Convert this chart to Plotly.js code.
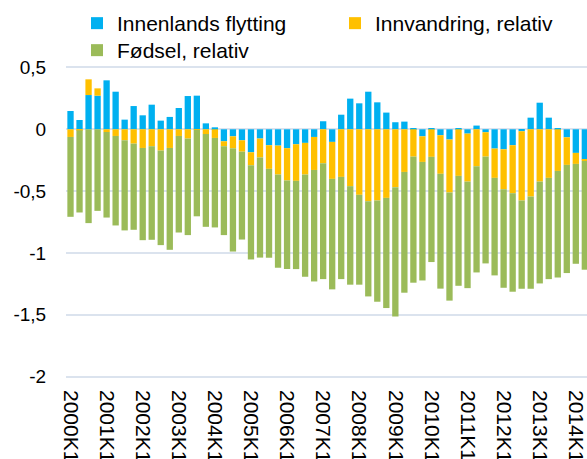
<!DOCTYPE html>
<html>
<head>
<meta charset="utf-8">
<script src="https://cdn.plot.ly/plotly-3.0.1.min.js"></script>
<style>
html, body { margin: 0; padding: 0; overflow: hidden; background: #fff; }
#chart { width: 587px; height: 459px; }
</style>
</head>
<body>
<div id="chart"></div>
<script>
var categories = [
  "2000K1","2000K2","2000K3","2000K4","2001K1","2001K2","2001K3","2001K4",
  "2002K1","2002K2","2002K3","2002K4","2003K1","2003K2","2003K3","2003K4",
  "2004K1","2004K2","2004K3","2004K4","2005K1","2005K2","2005K3","2005K4",
  "2006K1","2006K2","2006K3","2006K4","2007K1","2007K2","2007K3","2007K4",
  "2008K1","2008K2","2008K3","2008K4","2009K1","2009K2","2009K3","2009K4",
  "2010K1","2010K2","2010K3","2010K4","2011K1","2011K2","2011K3","2011K4",
  "2012K1","2012K2","2012K3","2012K4","2013K1","2013K2","2013K3","2013K4",
  "2014K1","2014K2"
];

var innenlands = [
  0.148, 0.075, 0.277, 0.272, 0.396, 0.304, 0.078, 0.188,
  0.113, 0.199, 0.070, 0.100, 0.172, 0.269, 0.272, 0.048,
  0.016, -0.097, -0.057, -0.089, -0.186, -0.075, -0.129, -0.132,
  -0.153, -0.121, -0.110, -0.062, 0.065, -0.102, 0.118, 0.248,
  0.210, 0.304, 0.218, 0.135, 0.057, 0.062, 0.003, -0.057,
  0.008, -0.048, -0.083, 0.003, -0.035, 0.030, -0.024, -0.156,
  -0.162, -0.129, -0.016, 0.094, 0.215, 0.094, 0.008, -0.065,
  -0.191, -0.245
];

var innvandring = [
  -0.062, -0.008, 0.127, 0.059, -0.022, -0.054, -0.089, -0.116,
  -0.151, -0.137, -0.172, -0.151, -0.054, -0.075, -0.004, -0.038,
  -0.070, -0.040, -0.097, -0.092, -0.105, -0.153, -0.191, -0.234,
  -0.261, -0.296, -0.256, -0.267, -0.275, -0.299, -0.385, -0.460,
  -0.530, -0.582, -0.576, -0.555, -0.468, -0.345, -0.221, -0.207,
  -0.223, -0.312, -0.428, -0.377, -0.388, -0.299, -0.197, -0.237,
  -0.323, -0.388, -0.560, -0.544, -0.423, -0.393, -0.337, -0.223,
  -0.089, -0.011
];

var fodsel = [
  -0.646, -0.665, -0.759, -0.660, -0.692, -0.724, -0.729, -0.697,
  -0.746, -0.757, -0.765, -0.824, -0.781, -0.781, -0.700, -0.751,
  -0.724, -0.719, -0.835, -0.711, -0.762, -0.810, -0.719, -0.754,
  -0.716, -0.714, -0.827, -0.902, -0.937, -0.894, -0.827, -0.797,
  -0.727, -0.770, -0.819, -0.891, -1.047, -0.977, -1.020, -0.959,
  -0.851, -0.929, -0.875, -0.889, -0.862, -0.859, -0.864, -0.789,
  -0.797, -0.797, -0.714, -0.746, -0.824, -0.819, -0.862, -0.875,
  -0.808, -0.880
];

var seriesNames = ["Innenlands flytting", "Innvandring, relativ", "Fødsel, relativ"];
var xTickVals = ["2000K1","2001K1","2002K1","2003K1","2004K1","2005K1","2006K1","2007K1",
                 "2008K1","2009K1","2010K1","2011K1","2012K1","2013K1","2014K1"];
var yTickVals = [0.5, 0, -0.5, -1, -1.5, -2];
var yTickText = ["0,5", "0", "-0,5", "-1", "-1,5", "-2"];

var FONT = "Liberation Sans, Arial, sans-serif";

var traces = [
  { type: "bar", x: categories, y: innenlands, name: seriesNames[0],
    marker: { color: "#00b0f0", line: { width: 0 } }, legend: "legend" },
  { type: "bar", x: categories, y: innvandring, name: seriesNames[1],
    marker: { color: "#ffc000", line: { width: 0 } }, legend: "legend2" },
  { type: "bar", x: categories, y: fodsel, name: seriesNames[2],
    marker: { color: "#9bbb59", line: { width: 0 } }, legend: "legend3" }
];

var legendFont = { family: FONT, size: 21, color: "#000000" };
function legendAt(x, y) {
  return {
    orientation: "h", x: x, y: y, xref: "paper", yref: "paper",
    xanchor: "left", yanchor: "top",
    bgcolor: "rgba(0,0,0,0)", borderwidth: 0, itemwidth: 30,
    font: legendFont
  };
}

var plotW = 587 - 66 - 0, plotH = 459 - 65 - 80;
function px2paperX(px) { return (px - 66) / plotW; }
function px2paperY(py) { return 1 + (65 - py) / plotH; }

var layout = {
  width: 587, height: 459,
  margin: { l: 66, r: 0, t: 65, b: 80, autoexpand: false },
  paper_bgcolor: "#ffffff", plot_bgcolor: "#ffffff",
  barmode: "relative", bargap: 0.3,
  font: { family: FONT, size: 19, color: "#000000" },
  xaxis: {
    type: "category",
    range: [-0.5, 57.24],
    tickmode: "array", tickvals: xTickVals, ticktext: xTickVals,
    tickangle: 90, showgrid: false, zeroline: false, showline: false,
    ticks: "", automargin: false,
    ticklabelstandoff: 10,
    tickfont: { family: FONT, size: 21, color: "#000000" }
  },
  yaxis: {
    range: [-2.02, 0.52],
    tickmode: "array", tickvals: yTickVals, ticktext: yTickText,
    showgrid: true, gridcolor: "#dbe3ee", gridwidth: 2,
    zeroline: false, showline: false,
    ticks: "outside", ticklen: 15, tickcolor: "rgba(0,0,0,0)",
    automargin: false,
    tickfont: { family: FONT, size: 19, color: "#000000" }
  },
  showlegend: true,
  legend: legendAt(px2paperX(77), px2paperY(3)),
  legend2: legendAt(px2paperX(335), px2paperY(3)),
  legend3: legendAt(px2paperX(77), px2paperY(30))
};

Plotly.newPlot("chart", traces, layout, { displayModeBar: false, responsive: false });
</script>
</body>
</html>
